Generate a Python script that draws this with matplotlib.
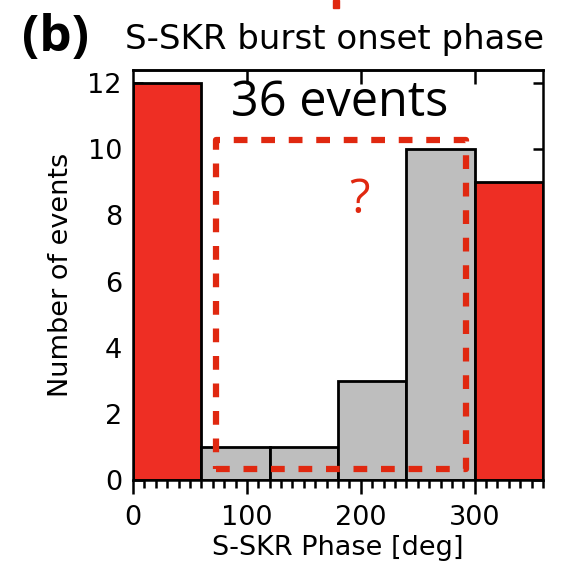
import numpy as np
import matplotlib.pyplot as plt
from matplotlib.patches import Rectangle

# Данные гистограммы (фаза S-SKR, шаг 60 град)
bin_edges = [0, 60, 120, 180, 240, 300, 360]
counts = [12, 1, 1, 3, 10, 9]
colors = ['#EE2E24', '#BEBEBE', '#BEBEBE', '#BEBEBE', '#BEBEBE', '#EE2E24']

# пунктирная рамка (град, число событий)
box_x = [72.5, 292]
box_y = [0.33, 10.27]

fig = plt.figure(figsize=(5.77, 5.70), dpi=100)
ax = fig.add_axes([133/577, 1 - 480/570, 410/577, 410/570])

for i in range(len(counts)):
    ax.bar(bin_edges[i], counts[i], width=bin_edges[i+1] - bin_edges[i], align='edge',
           color=colors[i], edgecolor='black', linewidth=2, zorder=2)

ax.plot([box_x[0], box_x[1], box_x[1], box_x[0], box_x[0]],
        [box_y[0], box_y[0], box_y[1], box_y[1], box_y[0]],
        color='#E02810', lw=4.5, dashes=(2.2, 2.2), zorder=3)

ax.text(199, 8.45, '?', color='#E02810', fontsize=34, family='Open Sans',
        ha='center', va='center', zorder=4)
ax.text(181, 11.4, '36 events', color='black', fontsize=35, family='Open Sans',
        ha='center', va='center', zorder=4)

ax.set_xlim(0, 360)
ax.set_ylim(0, 12.4)
ax.set_xticks([0, 100, 200, 300])
ax.set_xticks(np.arange(0, 361, 10), minor=True)
ax.set_yticks([0, 2, 4, 6, 8, 10, 12])
ax.tick_params(axis='x', which='major', direction='out', length=10, width=1.8,
               labelsize=19.5, pad=8)
ax.tick_params(axis='x', which='minor', direction='out', length=6, width=1.8)
ax.tick_params(axis='y', which='major', direction='in', length=7, width=1.8,
               labelsize=19.5, right=True, pad=8)
for s in ax.spines.values():
    s.set_linewidth(1.8)

# верхние деления внутрь
top = ax.secondary_xaxis('top')
top.set_xticks([100, 200, 300])
top.tick_params(direction='in', length=10, width=1.8, labeltop=False)
top.spines['top'].set_linewidth(1.8)

ax.set_xlabel('S-SKR Phase [deg]', fontsize=19.5, labelpad=3)
ax.set_ylabel('Number of events', fontsize=19.5, labelpad=10)

fig.text(125/577, 1 - 40/570, 'S-SKR burst onset phase', fontsize=24.5, va='center', ha='left')
fig.text(22/577, 1 - 38/570, '(b)', fontsize=37, fontweight='bold', family='Open Sans',
         va='center', ha='left')
fig.patches.append(Rectangle((333/577, 1 - 8/570), 6/577, 8/570, transform=fig.transFigure,
                             color='#E02810'))

fig.savefig('out.png', dpi=100)
